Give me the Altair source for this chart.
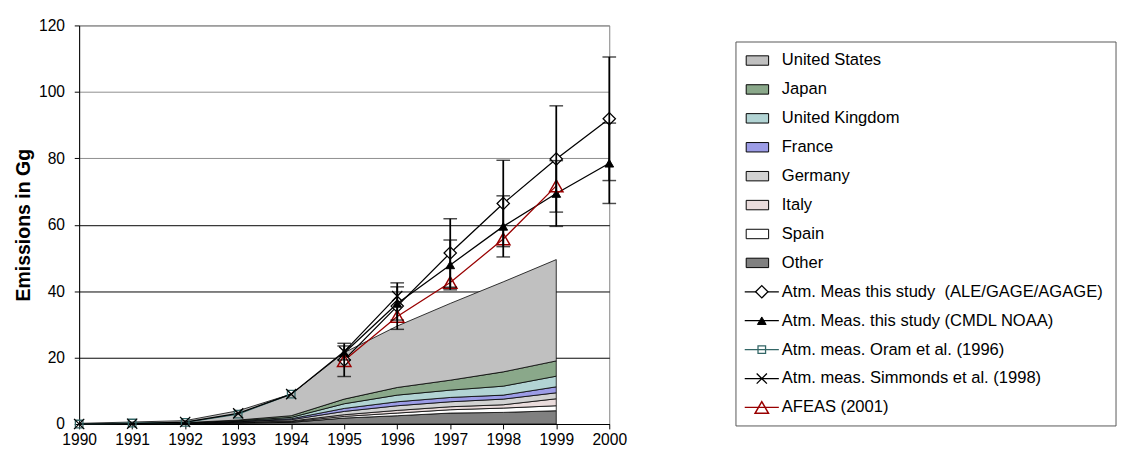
import altair as alt
import pandas as pd

FONT = "Liberation Sans"

# ---------------- data ----------------
years = list(range(1990, 2001))
area_years = list(range(1990, 2000))

# stacked areas, bottom to top
countries = ["Other", "Spain", "Italy", "Germany", "France", "United Kingdom", "Japan", "United States"]
other   = [0.05, 0.05, 0.10, 0.3, 0.5, 1.8, 2.5, 3.3, 3.5, 4.0]
spain   = [0.00, 0.02, 0.03, 0.1, 0.2, 0.5, 0.8, 1.0, 1.3, 1.5]
italy   = [0.00, 0.02, 0.03, 0.1, 0.2, 0.5, 0.8, 0.9, 1.0, 2.1]
germany = [0.00, 0.03, 0.08, 0.2, 0.4, 1.0, 1.4, 1.5, 1.7, 1.8]
france  = [0.00, 0.02, 0.05, 0.1, 0.3, 0.9, 1.2, 1.3, 1.2, 1.8]
uk      = [0.00, 0.03, 0.08, 0.2, 0.4, 1.4, 2.0, 2.2, 2.7, 3.2]
japan   = [0.00, 0.03, 0.05, 0.2, 0.5, 1.4, 2.3, 3.0, 4.3, 4.6]
us      = [0.15, 0.40, 0.60, 2.8, 6.5, 14.0, 18.5, 23.1, 27.1, 30.5]
area_values = [other, spain, italy, germany, france, uk, japan, us]
area_colors = ["#808080", "#FFFFFF", "#EADCDC", "#D2D2D2", "#9C9CE6", "#B2D4D4", "#8AA88A", "#C0C0C0"]

# measurement / estimate series (None = no value)
ale      = [None] * 5 + [19.3, 35.5, 51.5, 66.4, 79.8, 91.9]
ale_err  = [None] * 5 + [5.0, 7.0, 10.3, 13.0, 16.0, 18.6]
cmdl     = [None] * 5 + [21.4, 36.3, 47.9, 59.5, 69.4, 78.5]
cmdl_err = [None] * 5 + [2.1, 5.0, 7.5, 9.2, 9.9, 12.1]
oram     = [0.0, 0.3, 0.5, 3.0, 9.0] + [None] * 6
simmonds = [0.0, 0.1, 0.6, 3.2, 9.0, 21.8, 38.5] + [None] * 4
afeas    = [None] * 5 + [19.1, 32.4, 42.6, 55.7, 71.7, None]

line_names = [
    "Atm. Meas this study\u00a0 (ALE/GAGE/AGAGE)",
    "Atm. Meas. this study (CMDL NOAA)",
    "Atm. meas. Oram et al. (1996)",
    "Atm. meas. Simmonds et al. (1998)",
    "AFEAS (2001)",
]
line_values = [ale, cmdl, oram, simmonds, afeas]
line_colors = ["#000000", "#000000", "#336666", "#000000", "#990000"]

legend_labels = ["United States", "Japan", "United Kingdom", "France", "Germany",
                 "Italy", "Spain", "Other"] + line_names

# ---------------- tables ----------------
area_rows = []
for k, (name, vals) in enumerate(zip(countries, area_values)):
    for yr, v in zip(area_years, vals):
        area_rows.append({"year": yr, "country": name, "value": v, "ord": k})
area_df = pd.DataFrame(area_rows)

line_rows = []
for name, vals in zip(line_names, line_values):
    for yr, v in zip(years, vals):
        if v is not None:
            line_rows.append({"year": yr, "series": name, "value": v})
line_df = pd.DataFrame(line_rows)

err_rows = []
for vals, errs in [(ale, ale_err), (cmdl, cmdl_err)]:
    for yr, v, e in zip(years, vals, errs):
        if v is not None and e is not None:
            err_rows.append({"year": yr, "lo": v - e, "hi": v + e})
err_df = pd.DataFrame(err_rows)

# ---------------- main chart ----------------
xscale = alt.Scale(domain=[1990, 2000], nice=False, zero=False)
yscale = alt.Scale(domain=[0, 120], nice=False)

x_axis = alt.Axis(values=years, format="d", title=None, grid=False, labelFontSize=16,
                  labelFont=FONT, labelColor="black", tickColor="black", domainColor="black",
                  tickSize=5, labelFlush=False, labelPadding=3)
y_axis = alt.Axis(values=[0, 20, 40, 60, 80, 100, 120], title="Emissions in Gg",
                  titleFontSize=20, titleFont=FONT, titleFontWeight="bold", titleColor="black",
                  labelFontSize=16, labelFont=FONT, labelColor="black", tickSize=5,
                  tickColor="black", domainColor="black", grid=True,
                  gridColor=alt.condition("datum.value >= 80", alt.value("#8c8c8c"), alt.value("black")),
                  labelPadding=10, titlePadding=5)

areas = alt.Chart(area_df).mark_area(stroke="black", strokeWidth=0.8, opacity=1).encode(
    x=alt.X("year:Q", scale=xscale, axis=x_axis),
    y=alt.Y("value:Q", stack="zero", scale=yscale, axis=y_axis),
    fill=alt.Fill("country:N", scale=alt.Scale(domain=countries, range=area_colors), legend=None),
    order=alt.Order("ord:Q"),
)

lines = alt.Chart(line_df).mark_line(strokeWidth=1.3).encode(
    x=alt.X("year:Q", scale=xscale),
    y=alt.Y("value:Q", scale=yscale),
    stroke=alt.Stroke("series:N", scale=alt.Scale(domain=line_names, range=line_colors), legend=None),
    detail="series:N",
)

X_PATH = "M-1,-1L1,1M-1,1L1,-1"
marker_styles = {
    line_names[0]: dict(shape="diamond", size=160, filled=True, fill="white", stroke="black", strokeWidth=1.3),
    line_names[1]: dict(shape="triangle-up", size=80, filled=True, fill="black", stroke="black", strokeWidth=1),
    line_names[2]: dict(shape="square", size=60, filled=False, stroke="#336666", strokeWidth=1.3),
    line_names[3]: dict(shape=X_PATH, size=110, filled=False, stroke="black", strokeWidth=1.3),
    line_names[4]: dict(shape="triangle-up", size=190, filled=False, stroke="#990000", strokeWidth=1.5),
}

point_layers = []
for name in line_names:
    st = marker_styles[name]
    point_layers.append(
        alt.Chart(line_df).transform_filter(alt.datum.series == name).mark_point(opacity=1, **st).encode(
            x=alt.X("year:Q", scale=xscale),
            y=alt.Y("value:Q", scale=yscale),
        )
    )

err_rule = alt.Chart(err_df).mark_rule(color="black", strokeWidth=1.8).encode(
    x=alt.X("year:Q", scale=xscale),
    y=alt.Y("lo:Q", scale=yscale),
    y2="hi:Q",
)
err_lo = alt.Chart(err_df).mark_tick(color="black", orient="horizontal", size=14, thickness=1.5).encode(
    x=alt.X("year:Q", scale=xscale), y=alt.Y("lo:Q", scale=yscale))
err_hi = alt.Chart(err_df).mark_tick(color="black", orient="horizontal", size=14, thickness=1.5).encode(
    x=alt.X("year:Q", scale=xscale), y=alt.Y("hi:Q", scale=yscale))

main = alt.layer(areas, lines, *point_layers, err_rule, err_lo, err_hi).properties(
    width=544, height=409,
    view=alt.ViewBackground(stroke="#808080", strokeWidth=1),
)

# ---------------- custom legend ----------------
leg_df = pd.DataFrame({"idx": list(range(len(legend_labels))), "label": legend_labels})
leg_area_df = pd.DataFrame({"idx": list(range(8)), "label": legend_labels[:8]})
leg_line_df = pd.DataFrame({"idx": list(range(8, 13)), "label": line_names})

LEG_W, LEG_H = 390, 412
ly = alt.Scale(domain=[0, 12], range=[36, 392])

frame = alt.Chart(pd.DataFrame({"a": [0]})).mark_rect(fill="white", stroke="#555555", strokeWidth=1).encode(
    x=alt.value(0), x2=alt.value(LEG_W), y=alt.value(17), y2=alt.value(411))

RECT_PATH = "M-1,-0.42L1,-0.42L1,0.42L-1,0.42Z"
swatches = alt.Chart(leg_area_df).mark_point(shape=RECT_PATH, size=529, filled=True, stroke="black",
                                             strokeWidth=1, opacity=1).encode(
    x=alt.value(22),
    y=alt.Y("idx:Q", scale=ly, axis=None),
    fill=alt.Fill("label:N", scale=alt.Scale(domain=legend_labels[:8],
                                              range=[area_colors[countries.index(l)] for l in legend_labels[:8]]),
                  legend=None),
)
leg_lines = alt.Chart(leg_line_df).mark_rule(strokeWidth=1.3).encode(
    x=alt.value(9), x2=alt.value(44),
    y=alt.Y("idx:Q", scale=ly, axis=None),
    stroke=alt.Stroke("label:N", scale=alt.Scale(domain=line_names, range=line_colors), legend=None),
)
leg_points = []
for name in line_names:
    st = marker_styles[name]
    leg_points.append(
        alt.Chart(leg_line_df).transform_filter(alt.datum.label == name).mark_point(opacity=1, **st).encode(
            x=alt.value(26.5), y=alt.Y("idx:Q", scale=ly, axis=None))
    )
leg_text = alt.Chart(leg_df).mark_text(align="left", baseline="middle", fontSize=17, font=FONT,
                                       color="black").encode(
    x=alt.value(47),
    y=alt.Y("idx:Q", scale=ly, axis=None),
    text="label:N",
)

legend = alt.layer(frame, swatches, leg_lines, *leg_points, leg_text).properties(
    width=LEG_W, height=LEG_H,
    view=alt.ViewBackground(stroke="transparent"),
).resolve_scale(fill="independent", stroke="independent")

chart = alt.hconcat(main, legend, spacing=110).configure(
    background="white",
    padding={"left": 5, "top": 3, "right": 0, "bottom": 5},
).resolve_scale(fill="independent", stroke="independent", y="independent", x="independent")

chart.save("out.html", embed_options={"renderer": "svg", "actions": False})
